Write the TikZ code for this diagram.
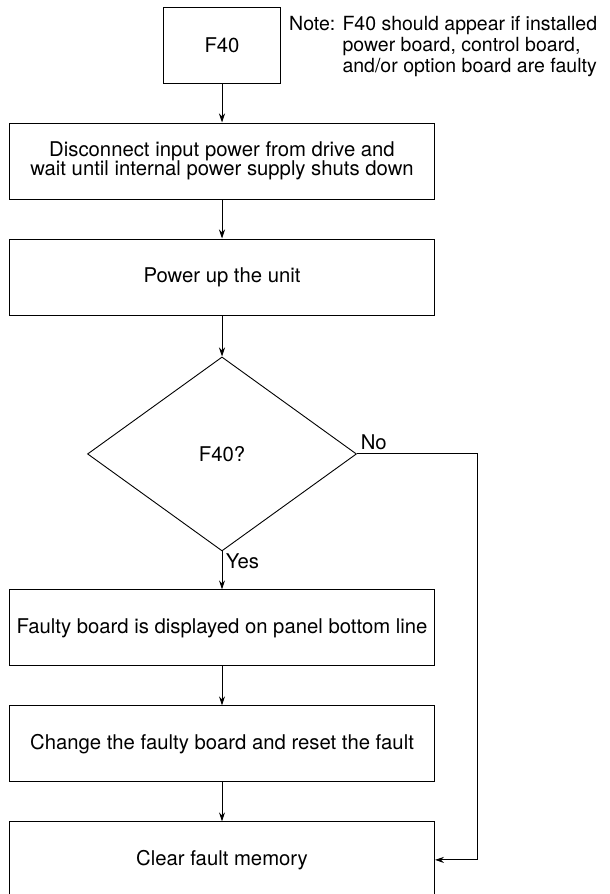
\documentclass[tikz,border=0pt]{standalone}
\usepackage{fontspec}
\setmainfont{TeX Gyre Heros}
\usetikzlibrary{arrows.meta,positioning,shapes.geometric}

\begin{document}
\begin{tikzpicture}[
  x=1pt, y=1pt, >={Stealth[length=9pt,width=6pt]},
  font=\fontsize{20.3}{19.5}\selectfont, node distance=39pt,
  box/.style={draw, line width=1pt, align=center, minimum width=425pt, minimum height=76pt, inner sep=0pt},
  dec/.style={draw, diamond, line width=0.9pt, minimum width=269pt, minimum height=194pt, inner sep=0pt},
  flow/.style={->, line width=1pt}]
  \useasboundingbox (0,0) rectangle (610,-894);
  \node[box, minimum width=117pt] (f40) at (222,-45) {F40};
  \node[anchor=north west, inner sep=0pt] (note) at (289,-16)
    {\fontsize{19.5}{21}\selectfont\begin{tabular}{@{}l@{ }l@{}}Note: & F40 should appear if installed\\
      & power board, control board,\\ & and/or option board are faulty\end{tabular}};
  \node[box, below=of f40] (disc) {Disconnect input power from drive and\\ wait until internal power supply shuts down};
  \node[box, below=of disc] (power) {Power up the unit};
  \node[dec, below=41pt of power] (check) {F40?};
  \node[box, below=38pt of check] (show) {Faulty board is displayed on panel bottom line};
  \node[box, below=of show] (change) {Change the faulty board and reset the fault};
  \node[box, below=of change] (clear) {Clear fault memory};
  \coordinate[right=121pt of check.east] (turn);
  \draw[flow] (f40) -- (disc); \draw[flow] (disc) -- (power); \draw[flow] (power) -- (check);
  \draw[flow] (check) -- node[right, pos=.25]{Yes} (show);
  \draw[flow] (show) -- (change); \draw[flow] (change) -- (clear);
  \draw[flow] (check.east) -- node[pos=0, anchor=south west]{No} (turn) |- (clear.east);
\end{tikzpicture}
\end{document}
